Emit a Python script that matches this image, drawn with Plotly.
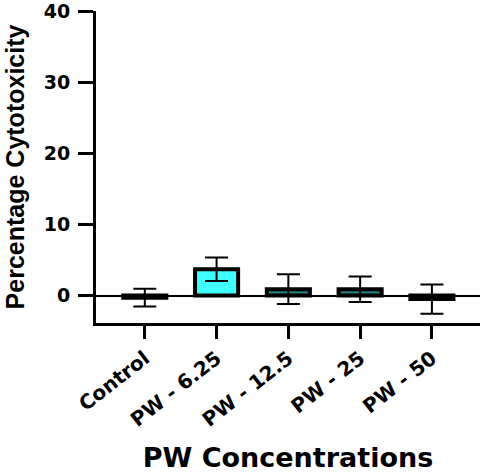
import plotly.graph_objects as go

# Cytotoxicity of PW at increasing concentrations (mean ± SD)
categories = ["Control", "PW - 6.25", "PW - 12.5", "PW - 25", "PW - 50"]
mean_cytotoxicity = [-0.3, 3.7, 0.9, 0.9, -0.5]
sd_cytotoxicity = [1.25, 1.65, 2.1, 1.8, 2.05]
bar_colors = ["#000000", "#40FFFF", "#267a7a", "#267a7a", "#000000"]
y_tick_values = [0, 10, 20, 30, 40]

x_pos = list(range(len(categories)))

y_tick_font = dict(family="DejaVu Sans, Arial, sans-serif", size=19, color="black", weight="bold")
x_tick_font = dict(family="DejaVu Sans, Arial, sans-serif", size=20, color="black", weight="bold")

fig = go.Figure()
fig.add_trace(go.Bar(
    x=x_pos,
    y=mean_cytotoxicity,
    width=0.6,
    marker=dict(color=bar_colors, line=dict(color="black", width=4)),
    error_y=dict(type="data", array=sd_cytotoxicity, visible=True,
                 color="black", thickness=2, width=11.5),
    showlegend=False,
))

fig.update_layout(
    width=492,
    height=476,
    margin=dict(l=96, r=12, t=11, b=153),
    paper_bgcolor="white",
    plot_bgcolor="white",
    xaxis=dict(
        range=[-0.68, 4.67],
        automargin=False,
        tickmode="array",
        tickvals=x_pos,
        ticktext=categories,
        tickangle=-38,
        tickfont=x_tick_font,
        ticks="outside",
        ticklen=13,
        tickwidth=3,
        tickcolor="black",
        showline=True,
        linewidth=3,
        linecolor="black",
        showgrid=False,
        zeroline=False,
        title=dict(text="PW Concentrations",
                   font=dict(family="DejaVu Sans, Arial, sans-serif", size=27,
                             color="black", weight="bold"),
                   standoff=18),
    ),
    yaxis=dict(
        range=[-3.87, 40.1],
        automargin=False,
        tickmode="array",
        tickvals=y_tick_values,
        tickfont=y_tick_font,
        ticks="outside",
        ticklen=15,
        tickwidth=3,
        tickcolor="black",
        ticklabelstandoff=4,
        ticklabeloverflow="allow",
        showline=True,
        linewidth=3,
        linecolor="black",
        showgrid=False,
        zeroline=True,
        zerolinecolor="black",
        zerolinewidth=2,
        title=dict(text="Percentage Cytotoxicity",
                   font=dict(family="Liberation Sans, Arial, sans-serif", size=25,
                             color="black", weight="bold"),
                   standoff=12),
    ),
)

fig.write_html("out.html")
